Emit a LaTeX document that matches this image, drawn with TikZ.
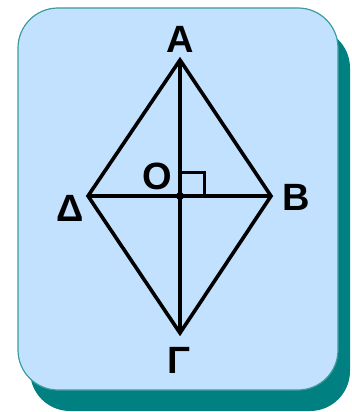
\documentclass[tikz,border=0pt]{standalone}
\usepackage{fontspec}
\setmainfont{Liberation Sans}
\usetikzlibrary{positioning, calc}
\definecolor{cardblue}{HTML}{C2E1FF}
\definecolor{cardedge}{HTML}{3C9C9C}
\definecolor{cardshade}{HTML}{008080}
\tikzset{
  vlabel/.style={font=\fontsize{38}{38}\selectfont\bfseries, inner sep=0pt},
}

\begin{document}
\begin{tikzpicture}[x=1pt, y=-1pt, line width=3.6pt]
            \useasboundingbox (0,0) rectangle (351,412);
            \fill[cardshade, rounded corners=40pt] (30,28) rectangle (350,411);
            \filldraw[fill=cardblue, draw=cardedge, line width=1.2pt, rounded corners=40pt] (18,8) rectangle (338,390);
            \coordinate (A) at (180,60);
            \coordinate (B) at (271,196);
            \coordinate (G) at (180,333);
            \coordinate (D) at (88,196);
            \coordinate (O) at (180,196);
            \draw (A) -- (B) -- (G) -- (D) -- cycle;
            \draw (A) -- (G);
            \draw (D) -- (B);
            \draw[line width=3pt] ($(O)+(0,-24)$) -| ($(O)+(24,0)$);
            \fill (O) circle (4);
            \node[vlabel] (lA) at (180,39) {A};
            \node[vlabel] (lB) at (296,197) {B};
            \node[vlabel] (lG) at (179,360) {Γ};
            \node[vlabel] (lD) at (70,208) {Δ};
            \node[vlabel] (lO) at (157,176) {O};
        \end{tikzpicture}
\end{document}
